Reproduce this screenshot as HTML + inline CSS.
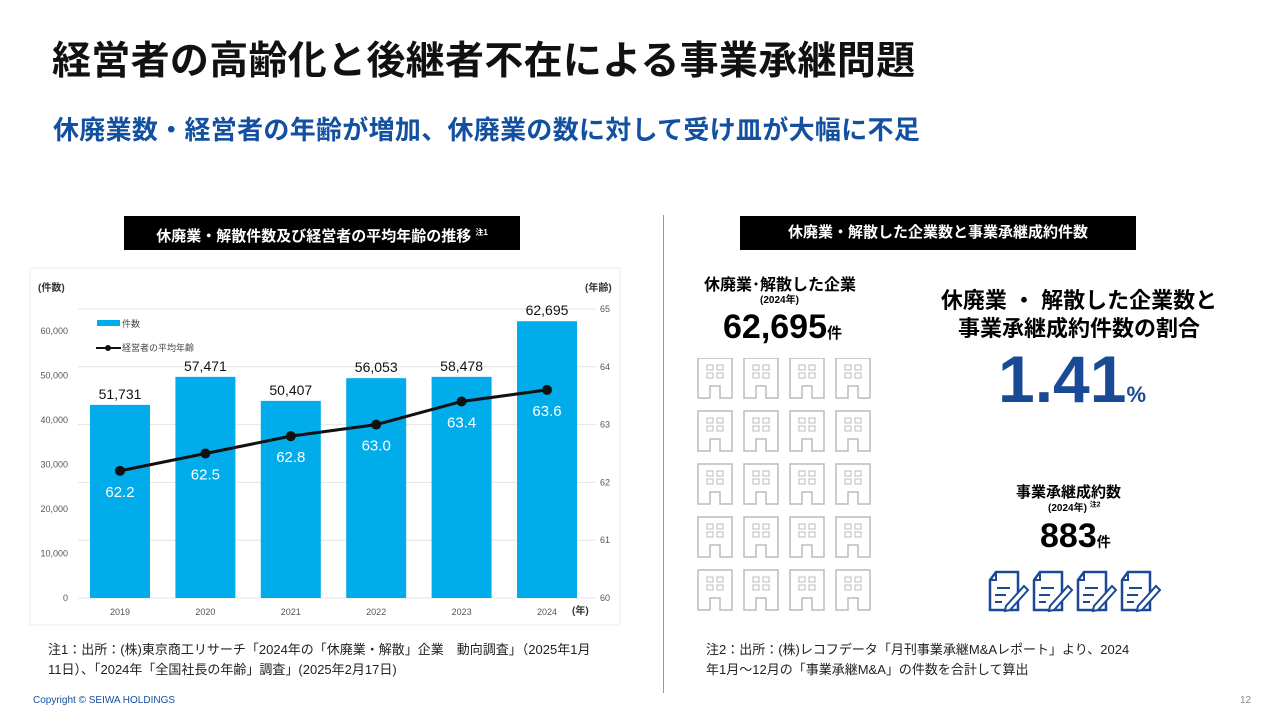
<!DOCTYPE html>
<html><head><meta charset="utf-8"><style>
body{margin:0;width:1280px;height:720px;background:#fff;font-family:"Liberation Sans","Noto Sans CJK JP",sans-serif;position:relative;overflow:hidden}
.a{position:absolute;white-space:nowrap}
.blk{background:#000;color:#fff;font-weight:bold;font-size:15px;text-align:center;line-height:34px;height:34px}
.bld{font-weight:bold}
</style></head><body>
<div class="a bld" style="left:52px;top:30px;font-size:39px;color:#111;letter-spacing:0.3px">経営者の高齢化と後継者不在による事業承継問題</div>
<div class="a bld" style="left:53px;top:110px;font-size:26px;color:#1450a0;letter-spacing:0.3px">休廃業数・経営者の年齢が増加、休廃業の数に対して受け皿が大幅に不足</div>
<div class="a blk" style="left:124px;top:216px;width:396px">休廃業・解散件数及び経営者の平均年齢の推移 <sup style="font-size:8px">注1</sup></div>
<div class="a blk" style="left:740px;top:216px;width:396px">休廃業・解散した企業数と事業承継成約件数</div>
<div class="a" style="left:663px;top:215px;width:1px;height:478px;background:#999"></div>

<svg class="a" style="left:0;top:0" width="660" height="640" id="ch"></svg>

<div class="a" style="left:48px;top:640px;font-size:13px;line-height:20px;color:#222">注1：出所：(株)東京商工リサーチ「2024年の「休廃業・解散」企業　動向調査」（2025年1月<br>11日）、「2024年「全国社長の年齢」調査」(2025年2月17日)</div>
<div class="a" style="left:706px;top:640px;font-size:13px;line-height:20px;color:#222">注2：出所：(株)レコフデータ「月刊事業承継M&amp;Aレポート」より、2024<br>年1月～12月の「事業承継M&amp;A」の件数を合計して算出</div>
<div class="a" style="left:33px;top:695px;font-size:10px;color:#1450a0">Copyright © SEIWA HOLDINGS</div>
<div class="a" style="left:1240px;top:695px;font-size:10px;color:#888">12</div>

<div class="a bld" style="left:704px;top:271px;font-size:16px">休廃業･解散した企業</div>
<div class="a bld" style="left:760px;top:291px;font-size:10px">(2024年)</div>
<div class="a bld" style="left:723px;top:308px;font-size:34px">62,695<span style="font-size:15px">件</span></div>
<svg class="a" style="left:690px;top:358px" width="200" height="260" id="bld"></svg>

<div class="a bld" style="left:934px;top:287px;font-size:22px;line-height:28px;text-align:center;width:290px">休廃業 ・ 解散した企業数と<br>事業承継成約件数の割合</div>
<div class="a bld" style="left:998px;top:341px;font-size:66px;color:#1a4a96">1.41<span style="font-size:22px">%</span></div>
<div class="a bld" style="left:1016px;top:481px;font-size:15px">事業承継成約数</div>
<div class="a bld" style="left:1048px;top:499px;font-size:10px">(2024年) <sup style="font-size:7px">注2</sup></div>
<div class="a bld" style="left:1040px;top:517px;font-size:34px">883<span style="font-size:14px">件</span></div>
<svg class="a" style="left:985px;top:568px" width="180" height="50" id="docs"></svg>

<script>
const years=["2019","2020","2021","2022","2023","2024"];
const barHeights=[43400,49700,44300,49400,49700,62200];
const barLabels=["51,731","57,471","50,407","56,053","58,478","62,695"];
const ages=[62.2,62.5,62.8,63.0,63.4,63.6];
const leftTicks=[0,10000,20000,30000,40000,50000,60000];
const rightTicks=[60,61,62,63,64,65];
const NS="http://www.w3.org/2000/svg";
const svg=document.getElementById('ch');
function mk(t,a,p){const e=document.createElementNS(NS,t);for(const k in a)e.setAttribute(k,a[k]);(p||svg).appendChild(e);return e;}
const yL=v=>598-v*44.5/10000, yR=v=>598-(v-60)*57.8, xC=i=>120+i*85.4;
const box=mk('rect',{x:30,y:268,width:590,height:357,fill:'#fff',stroke:'#eee'});

rightTicks.forEach(t=>{const l=mk('line',{x1:78,x2:596,y1:yR(t),y2:yR(t),stroke:'#e4e4e4'});

const tx=mk('text',{x:600,y:yR(t)+3,'font-size':9,fill:'#555'});tx.textContent=t;
});
leftTicks.forEach(t=>{const tx=mk('text',{x:68,y:yL(t)+3,'font-size':9,fill:'#555','text-anchor':'end'});tx.textContent=t.toLocaleString('en-US');
});
years.forEach((y,i)=>{const b=mk('rect',{x:xC(i)-30,y:yL(barHeights[i]),width:60,height:598-yL(barHeights[i]),fill:'#00adea'});

const bl=mk('text',{x:xC(i),y:yL(barHeights[i])-6,'font-size':14,'text-anchor':'middle',fill:'#111'});bl.textContent=barLabels[i];

const xl=mk('text',{x:xC(i),y:615,'font-size':9,'text-anchor':'middle',fill:'#555'});xl.textContent=y;

const al=mk('text',{x:xC(i),y:yR(ages[i])+26,'font-size':15,'text-anchor':'middle',fill:'#fff'});al.textContent=ages[i].toFixed(1);
});
const ln=mk('polyline',{points:ages.map((a,i)=>xC(i)+','+yR(a)).join(' '),fill:'none',stroke:'#111','stroke-width':3});

ages.forEach((a,i)=>{const c=mk('circle',{cx:xC(i),cy:yR(a),r:5,fill:'#111'});});
[['(件数)',38,291],['(年齢)',585,291],['(年)',572,614]].forEach(d=>{const t=mk('text',{x:d[1],y:d[2],'font-size':10,'font-weight':'bold',fill:'#333'});t.textContent=d[0];
});
const lg=mk('rect',{x:97,y:320,width:23,height:6,fill:'#00adea'});
const lt=mk('text',{x:122,y:327,'font-size':9,fill:'#444'});lt.textContent='件数';
const ll=mk('line',{x1:96,x2:121,y1:348,y2:348,stroke:'#111','stroke-width':2});
mk('circle',{cx:108,cy:348,r:3,fill:'#111'});
const lt2=mk('text',{x:122,y:351,'font-size':9,fill:'#444'});lt2.textContent='経営者の平均年齢';
const bs=document.getElementById('bld');
for(let r=0;r<5;r++)for(let c=0;c<4;c++){const g=document.createElementNS(NS,'g');g.setAttribute('transform',`translate(${8+c*46},${r*53})`);

g.innerHTML='<path d="M0,40V0H34V40H22V28H12V40Z" fill="none" stroke="#bbb" stroke-width="1.5"/><rect x="9" y="7" width="6" height="5" fill="none" stroke="#bbb"/><rect x="19" y="7" width="6" height="5" fill="none" stroke="#bbb"/><rect x="9" y="15" width="6" height="5" fill="none" stroke="#bbb"/><rect x="19" y="15" width="6" height="5" fill="none" stroke="#bbb"/>';
bs.appendChild(g);}
const ds=document.getElementById('docs');
for(let i=0;i<4;i++){const g=document.createElementNS(NS,'g');g.setAttribute('transform',`translate(${3+i*44},2)`);

g.innerHTML='<path d="M8,2H30V40H2V10Z" fill="none" stroke="#1a4a96" stroke-width="2.5"/><path d="M8,2V10H2" fill="none" stroke="#1a4a96" stroke-width="2"/><line x1="9" y1="18" x2="22" y2="18" stroke="#1a4a96" stroke-width="2"/><line x1="7" y1="25" x2="18" y2="25" stroke="#1a4a96" stroke-width="2"/><line x1="7" y1="32" x2="14" y2="32" stroke="#1a4a96" stroke-width="2"/><path d="M18,36L36,16L40,20L22,40L17,41Z" fill="#fff" stroke="#1a4a96" stroke-width="2"/>';
ds.appendChild(g);}
</script>
</body></html>
